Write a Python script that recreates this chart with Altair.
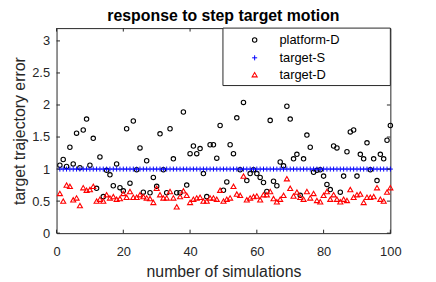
import altair as alt
import pandas as pd

sims = list(range(1, 101))

platform_D = [1.06, 1.15, 1.04, 1.34, 1.08, 1.56, 1.02, 1.61, 1.78, 1.06,
              1.48, 0.70, 1.19, 0.57, 0.98, 0.91, 0.74, 1.08, 0.71, 0.66,
              1.63, 0.78, 1.75, 0.99, 1.33, 0.64, 1.13, 0.63, 0.87, 0.73,
              1.55, 0.99, 0.63, 1.63, 1.16, 0.63, 0.63, 1.89, 0.75, 1.24,
              1.36, 1.24, 1.32, 0.93, 0.57, 1.38, 1.38, 1.17, 1.68, 0.67,
              0.80, 1.38, 1.24, 1.80, 0.99, 2.04, 0.82, 0.93, 0.99, 0.93,
              0.87, 0.79, 0.65, 1.76, 0.81, 0.74, 1.11, 1.05, 1.98, 1.78,
              1.16, 1.23, 0.59, 1.16, 1.53, 1.34, 0.95, 0.98, 0.99, 0.89,
              0.76, 0.68, 1.36, 1.33, 0.64, 0.89, 1.27, 1.58, 1.61, 0.89,
              1.23, 1.16, 1.41, 0.99, 1.16, 0.82, 1.23, 1.16, 1.45, 1.68]

target_S = [1.0] * 100

target_D = [0.62, 0.50, 0.75, 0.73, 0.52, 0.55, 0.43, 0.71, 0.67, 0.68,
            0.73, 0.50, 0.53, 0.50, 0.60, 0.55, 0.57, 0.53, 0.54, 0.62,
            0.56, 0.65, 0.56, 0.56, 0.60, 0.57, 0.55, 0.54, 0.48, 0.70,
            0.60, 0.55, 0.55, 0.65, 0.55, 0.41, 0.57, 0.66, 0.59, 0.48,
            0.53, 0.55, 0.56, 0.50, 0.50, 0.55, 0.55, 0.53, 0.67, 0.50,
            0.53, 0.55, 0.73, 0.61, 0.59, 0.89, 0.52, 0.55, 0.57, 0.58,
            0.52, 0.60, 0.60, 0.65, 0.54, 0.49, 0.53, 0.59, 0.85, 0.70,
            0.58, 0.64, 0.56, 0.53, 0.65, 0.55, 0.62, 0.51, 0.49, 0.59,
            0.65, 0.53, 0.60, 0.53, 0.49, 0.53, 0.51, 0.68, 0.56, 0.60,
            0.61, 0.48, 0.56, 0.56, 0.57, 0.71, 0.53, 0.50, 0.64, 0.71]

series_names = ["platform-D", "target-S", "target-D"]
x_ticks = [0, 20, 40, 60, 80, 100]
y_ticks = [0, 0.5, 1, 1.5, 2, 2.5, 3]

FONT = "Liberation Sans"
AX = "#262626"
W, H = 337, 207
PLUS = "M-1,0L1,0M0,-1L0,1"

df = pd.DataFrame({
    "sim": sims * 3,
    "value": platform_D + target_S + target_D,
    "series": [series_names[0]] * 100 + [series_names[1]] * 100 + [series_names[2]] * 100,
})

xscale = alt.Scale(domain=[0, 100], nice=False, zero=False)
yscale = alt.Scale(domain=[0, 3.2], nice=False, zero=False)
xaxis = alt.Axis(values=x_ticks, grid=False, ticks=False, domain=False, labelPadding=13,
                 labelFlush=False, title="number of simulations", titlePadding=5)
yaxis = alt.Axis(values=y_ticks, grid=False, ticks=False, domain=False, labelPadding=7,
                 labelFlush=False, format="~g", title="target trajectory error", titlePadding=4)

X = alt.X("sim:Q", scale=xscale, axis=xaxis)
Y = alt.Y("value:Q", scale=yscale, axis=yaxis)

base = alt.Chart(df)
styles = {
    "platform-D": dict(shape="circle", stroke="black", size=20, strokeWidth=1.1),
    "target-S": dict(shape=PLUS, stroke="#0000ff", size=26, strokeWidth=1),
    "target-D": dict(shape="triangle-up", stroke="#ff0000", size=26, strokeWidth=1.1),
}

layers = []
for name in series_names:
    st = styles[name]
    layers.append(
        base.transform_filter(alt.datum.series == name)
        .mark_point(filled=False, opacity=1, **st)
        .encode(x=X, y=Y)
    )

# inward tick marks
xt = pd.DataFrame({"sim": x_ticks})
yt = pd.DataFrame({"value": y_ticks})
TL = 3.5
tick_layers = [
    alt.Chart(xt).mark_rule(color=AX, strokeWidth=1).encode(x=X, y=alt.value(H), y2=alt.value(H - TL)),
    alt.Chart(xt).mark_rule(color=AX, strokeWidth=1).encode(x=X, y=alt.value(0), y2=alt.value(TL)),
    alt.Chart(yt).mark_rule(color=AX, strokeWidth=1).encode(y=Y, x=alt.value(0), x2=alt.value(TL)),
    alt.Chart(yt).mark_rule(color=AX, strokeWidth=1).encode(y=Y, x=alt.value(W), x2=alt.value(W - TL)),
]

# legend box
leg_df = pd.DataFrame({"label": series_names})
legend_layers = [
    alt.Chart(leg_df.head(1)).mark_rect(fill="white", stroke=AX, strokeWidth=1).encode(
        x=alt.value(168), x2=alt.value(W), y=alt.value(0), y2=alt.value(58))
]
row_y = [12, 30, 47]
for i, name in enumerate(series_names):
    st = styles[name]
    sub = leg_df[leg_df["label"] == name]
    legend_layers.append(
        alt.Chart(sub).mark_point(filled=False, opacity=1, **st).encode(
            x=alt.value(200), y=alt.value(row_y[i]))
    )
    legend_layers.append(
        alt.Chart(sub).mark_text(align="left", baseline="middle", font=FONT, fontSize=13, color="black").encode(
            x=alt.value(225), y=alt.value(row_y[i]), text="label:N")
    )

chart = alt.layer(*layers, *tick_layers, *legend_layers).properties(
    width=W, height=H,
    title=alt.TitleParams("response to step target motion", font=FONT, fontSize=16, fontWeight="bold",
                          color="black", anchor="middle", offset=4),
    autosize=alt.AutoSizeParams(type="none"),
    padding={"left": 49, "top": 19, "right": 38, "bottom": 46},
).configure_view(stroke=AX, strokeWidth=1).configure_axis(
    labelFont=FONT, labelFontSize=13, labelColor=AX,
    titleFont=FONT, titleFontSize=16, titleFontWeight="normal", titleColor=AX,
)

chart.save("out.html", embed_options={"renderer": "svg", "actions": False})
